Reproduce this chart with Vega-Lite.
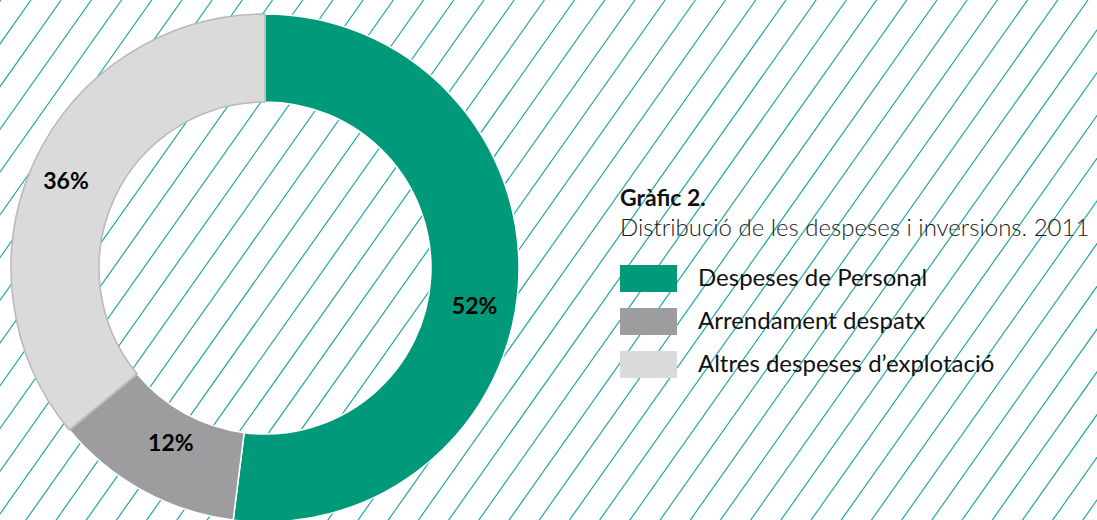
{
  "$schema": "https://vega.github.io/schema/vega-lite/v6.json",
  "autosize": "none",
  "width": 530,
  "height": 536,
  "padding": {"left": 0, "top": 0, "right": 567, "bottom": -16},
  "background": "#ffffff",
  "title": {
    "text": "Gràfic 2.",
    "subtitle": "Distribució de les despeses i inversions. 2011",
    "anchor": "start",
    "frame": "group",
    "orient": "top",
    "dx": 620,
    "dy": 242,
    "offset": 0,
    "font": "Lato",
    "fontSize": 23,
    "fontWeight": "bold",
    "color": "#111111",
    "subtitleFont": "Lato",
    "subtitleFontSize": 24,
    "subtitleFontWeight": 300,
    "subtitleColor": "#1a1a1a",
    "subtitlePadding": 6
  },
  "datasets": {
    "parts": [
      {"cat": "Despeses de Personal", "v": 52, "k": 1, "label": "52%"},
      {"cat": "Arrendament despatx", "v": 12, "k": 2, "label": "12%"},
      {"cat": "Altres despeses d’explotació", "v": 36, "k": 3, "label": "36%"}
    ],
    "hatch": [
      {"t": 0.8, "b": -378}, {"t": 31, "b": -347.8}, {"t": 61.2, "b": -317.6}, {"t": 91.4, "b": -287.4},
      {"t": 121.6, "b": -257.2}, {"t": 151.8, "b": -227}, {"t": 182, "b": -196.8}, {"t": 212.2, "b": -166.6},
      {"t": 242.4, "b": -136.4}, {"t": 272.6, "b": -106.2}, {"t": 302.8, "b": -76}, {"t": 333, "b": -45.8},
      {"t": 363.2, "b": -15.6}, {"t": 393.4, "b": 14.6}, {"t": 423.6, "b": 44.8}, {"t": 453.8, "b": 75},
      {"t": 484, "b": 105.2}, {"t": 514.2, "b": 135.4}, {"t": 544.4, "b": 165.6}, {"t": 574.6, "b": 195.8},
      {"t": 604.8, "b": 226}, {"t": 635, "b": 256.2}, {"t": 665.2, "b": 286.4}, {"t": 695.4, "b": 316.6},
      {"t": 725.6, "b": 346.8}, {"t": 755.8, "b": 377}, {"t": 786, "b": 407.2}, {"t": 816.2, "b": 437.4},
      {"t": 846.4, "b": 467.6}, {"t": 876.6, "b": 497.8}, {"t": 906.8, "b": 528}, {"t": 937, "b": 558.2},
      {"t": 967.2, "b": 588.4}, {"t": 997.4, "b": 618.6}, {"t": 1027.6, "b": 648.8}, {"t": 1057.8, "b": 679},
      {"t": 1088, "b": 709.2}, {"t": 1118.2, "b": 739.4}, {"t": 1148.4, "b": 769.6}, {"t": 1178.6, "b": 799.8},
      {"t": 1208.8, "b": 830}, {"t": 1239, "b": 860.2}, {"t": 1269.2, "b": 890.4}, {"t": 1299.4, "b": 920.6},
      {"t": 1329.6, "b": 950.8}, {"t": 1359.8, "b": 981}, {"t": 1390, "b": 1011.2}, {"t": 1420.2, "b": 1041.4},
      {"t": 1450.4, "b": 1071.6}
    ]
  },
  "layer": [
    {
      "data": {"name": "hatch"},
      "mark": {"type": "rule", "color": "#1fa8a5", "strokeWidth": 1.2},
      "encoding": {
        "x": {"field": "t", "type": "quantitative", "scale": {"domain": [0, 530], "nice": false, "zero": false}, "axis": null},
        "x2": {"field": "b"},
        "y": {"datum": 0, "type": "quantitative", "scale": {"domain": [0, 536], "reverse": true, "nice": false, "zero": false}, "axis": null},
        "y2": {"datum": 536}
      }
    },
    {
      "data": {"name": "parts"},
      "mark": {"type": "arc", "innerRadius": 166, "outerRadius": 254, "strokeWidth": 1.5},
      "encoding": {
        "theta": {"field": "v", "type": "quantitative", "stack": true},
        "order": {"field": "k", "type": "quantitative"},
        "color": {
          "field": "cat", "type": "nominal",
          "scale": {"domain": ["Despeses de Personal", "Arrendament despatx", "Altres despeses d’explotació"], "range": ["#009a7a", "#9d9d9f", "#dadadb"]},
          "legend": {
            "orient": "none", "legendX": 620, "legendY": 250, "title": null,
            "symbolType": "M-1,-0.474H1V0.474H-1Z", "symbolSize": 3249,
            "symbolStrokeWidth": 0, "symbolOpacity": 1,
            "labelFont": "Lato", "labelFontSize": 24, "labelColor": "#111111",
            "labelOffset": 21, "rowPadding": -15, "padding": 0, "labelLimit": 400
          }
        },
        "stroke": {
          "field": "cat", "type": "nominal",
          "scale": {"domain": ["Despeses de Personal", "Arrendament despatx", "Altres despeses d’explotació"], "range": ["#ffffff", "#ffffff", "#b8b8b8"]},
          "legend": null
        }
      }
    },
    {
      "data": {"name": "parts"},
      "mark": {"type": "text", "radius": 210, "font": "Lato", "fontSize": 23, "fontWeight": "bold", "color": "#000000", "dy": 26},
      "encoding": {
        "theta": {"field": "v", "type": "quantitative", "stack": true},
        "order": {"field": "k", "type": "quantitative"},
        "text": {"condition": {"test": "datum.k === 1", "field": "label"}, "value": ""}
      }
    },
    {
      "data": {"name": "parts"},
      "mark": {"type": "text", "radius": 210, "font": "Lato", "fontSize": 23, "fontWeight": "bold", "color": "#000000", "dx": 7, "dy": -8},
      "encoding": {
        "theta": {"field": "v", "type": "quantitative", "stack": true},
        "order": {"field": "k", "type": "quantitative"},
        "text": {"condition": {"test": "datum.k === 2", "field": "label"}, "value": ""}
      }
    },
    {
      "data": {"name": "parts"},
      "mark": {"type": "text", "radius": 210, "font": "Lato", "fontSize": 23, "fontWeight": "bold", "color": "#000000", "dx": -9, "dy": 3},
      "encoding": {
        "theta": {"field": "v", "type": "quantitative", "stack": true},
        "order": {"field": "k", "type": "quantitative"},
        "text": {"condition": {"test": "datum.k === 3", "field": "label"}, "value": ""}
      }
    }
  ],
  "config": {"view": {"stroke": null}}
}
